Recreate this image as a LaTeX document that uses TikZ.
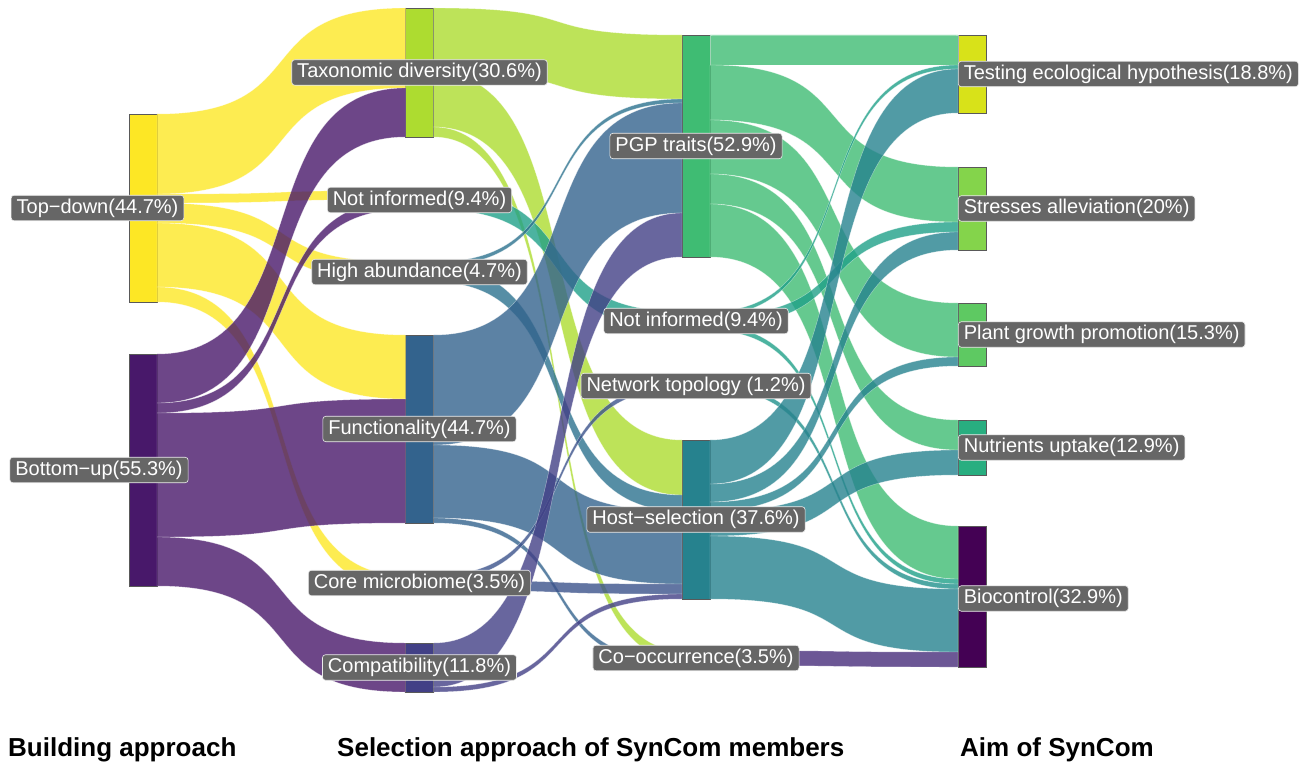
\documentclass[tikz,border=0pt]{standalone}
\usepackage{fontspec}
\setmainfont{Liberation Sans}
\usetikzlibrary{calc}

% viridis, one colour per node name
\definecolor{td}{HTML}{FDE725}
\definecolor{bu}{HTML}{48186A}
\definecolor{tax}{HTML}{ADDC30}
\definecolor{ni2}{HTML}{1FA088}
\definecolor{ni3}{HTML}{1FA088}
\definecolor{ha}{HTML}{2C728E}
\definecolor{fun}{HTML}{33638D}
\definecolor{core}{HTML}{3B528B}
\definecolor{comp}{HTML}{424086}
\definecolor{pgp}{HTML}{3FBC73}
\definecolor{net}{HTML}{21918C}
\definecolor{hs}{HTML}{26828E}
\definecolor{cooc}{HTML}{472D7B}
\definecolor{test}{HTML}{D8E219}
\definecolor{stress}{HTML}{84D44B}
\definecolor{growth}{HTML}{5EC962}
\definecolor{nutr}{HTML}{28AE80}
\definecolor{bioc}{HTML}{440154}
\definecolor{lblgray}{HTML}{666666}

\tikzset{
  bar/.style={draw=black!65, line width=0.8pt, minimum width=28pt, inner sep=0pt, outer sep=0pt},
  lbl/.style={fill=lblgray, draw=white!85!gray, line width=0.6pt, rounded corners=3pt,
    text=white, font=\fontsize{20}{24}\selectfont, inner xsep=5.5pt, inner ysep=3.5pt,
    text height=14.5pt, text depth=4pt},
  flowfill/.style={fill opacity=0.8, draw=white, draw opacity=0.5, line width=0.4pt},
  heading/.style={font=\fontsize{26}{30}\selectfont\bfseries, anchor=base west, inner sep=0pt}
}

% band from node #1 (offset #2 below its top) to node #3 (offset #4), thickness #5
\newcommand\flow[5]{%
  \fill[flowfill, fill=#1] let
    \p1 = ($(#1.north east)+(0,#2)$),
    \p2 = ($(#3.north west)+(0,#4)$),
    \p3 = ($(#1.north east)+(0,#2+#5)$),
    \p4 = ($(#3.north west)+(0,#4+#5)$),
    \p5 = ($(\p1)!.65!(\p2)$),
    \p6 = ($(\p1)!.35!(\p2)$)
  in (\p1) .. controls (\x5,\y1) and (\x6,\y2) .. (\p2)
     -- (\p4) .. controls (\x6,\y4) and (\x5,\y3) .. (\p3) -- cycle;}

\begin{document}
\begin{tikzpicture}[x=1pt, y=-1pt]
    \useasboundingbox (0,0) rectangle (1308,762);

    % building approach
    \node[bar, fill=td, minimum height=188pt] (td) at (143,208) {};
    \node[bar, fill=bu, minimum height=232pt] (bu) at (143,470) {};
    % selection approach
    \node[bar, fill=tax, minimum height=129pt] (tax) at (419.5,72.5) {};
    \node[bar, fill=ni2, minimum height=19pt] (ni2) at (419.5,200) {};
    \node[bar, fill=ha, minimum height=20pt] (ha) at (419.5,272) {};
    \node[bar, fill=fun, minimum height=188pt] (fun) at (419.5,429) {};
    \node[bar, fill=core, minimum height=15pt] (core) at (419.5,583) {};
    \node[bar, fill=comp, minimum height=49pt] (comp) at (419.5,667.5) {};
    \node[bar, fill=pgp, minimum height=222pt] (pgp) at (696,146) {};
    \node[bar, fill=ni3, minimum height=19pt] (ni3) at (696,321) {};
    \node[bar, fill=net, minimum height=5pt] (net) at (696,386) {};
    \node[bar, fill=hs, minimum height=159pt] (hs) at (696,519.5) {};
    \node[bar, fill=cooc, minimum height=15pt] (cooc) at (696,658) {};
    % aim
    \node[bar, fill=test, minimum height=78pt] (test) at (972,74) {};
    \node[bar, fill=stress, minimum height=83pt] (stress) at (972,208.5) {};
    \node[bar, fill=growth, minimum height=63pt] (growth) at (972,334.5) {};
    \node[bar, fill=nutr, minimum height=55pt] (nutr) at (972,447.5) {};
    \node[bar, fill=bioc, minimum height=141pt] (bioc) at (972,596.5) {};

    % flows: source/offset/target/offset/thickness
    \foreach \src/\sa/\tgt/\ta/\fw in {
        td/0/tax/0/80, td/80/ni2/0/9, td/89/ha/0/20, td/109/fun/0/64, td/173/core/0/15,
        bu/0/tax/80/49, bu/49/ni2/9/10, bu/59/fun/64/124, bu/183/comp/0/49,
        tax/0/pgp/0/64, tax/64/hs/0/55, tax/119/cooc/0/10,
        ni2/0/ni3/0/19,
        ha/0/pgp/64/4, ha/4/hs/55/16,
        fun/0/pgp/68/110, fun/110/hs/71/73, fun/183/cooc/10/5,
        core/0/net/0/5, core/5/hs/144/10,
        comp/0/pgp/178/44, comp/44/hs/154/5,
        pgp/0/test/0/30, pgp/30/stress/0/55, pgp/85/growth/0/54, pgp/139/nutr/0/30, pgp/169/bioc/0/53,
        ni3/0/test/30/4, ni3/4/stress/55/10, ni3/14/bioc/53/5,
        net/0/bioc/58/5,
        hs/0/test/34/44, hs/44/stress/65/18, hs/62/growth/54/9, hs/71/nutr/30/25, hs/96/bioc/63/63,
        cooc/0/bioc/126/15} {
        \flow{\src}{\sa}{\tgt}{\ta}{\fw}
    }

    % labels on top
    \node[lbl] (td-l) at ($(td)+(-45.5,0)$) {Top−down(44.7\%)};
    \node[lbl] (bu-l) at ($(bu)+(-44,0)$) {Bottom−up(55.3\%)};
    \node[lbl] (tax-l) at (tax) {Taxonomic diversity(30.6\%)};
    \node[lbl] (ni2-l) at (ni2) {Not informed(9.4\%)};
    \node[lbl] (ha-l) at (ha) {High abundance(4.7\%)};
    \node[lbl] (fun-l) at (fun) {Functionality(44.7\%)};
    \node[lbl] (core-l) at (core) {Core microbiome(3.5\%)};
    \node[lbl] (comp-l) at (comp) {Compatibility(11.8\%)};
    \node[lbl] (pgp-l) at (pgp) {PGP traits(52.9\%)};
    \node[lbl] (ni3-l) at (ni3) {Not informed(9.4\%)};
    \node[lbl] (net-l) at (net) {Network topology (1.2\%)};
    \node[lbl] (hs-l) at (hs) {Host−selection (37.6\%)};
    \node[lbl] (cooc-l) at (cooc) {Co−occurrence(3.5\%)};
    \node[lbl, anchor=west] (test-l) at (test.west) {Testing ecological hypothesis(18.8\%)};
    \node[lbl, anchor=west] (stress-l) at (stress.west) {Stresses alleviation(20\%)};
    \node[lbl, anchor=west] (growth-l) at (growth.west) {Plant growth promotion(15.3\%)};
    \node[lbl, anchor=west] (nutr-l) at (nutr.west) {Nutrients uptake(12.9\%)};
    \node[lbl, anchor=west] (bioc-l) at ($(bioc.west)+(0,2)$) {Biocontrol(32.9\%)};

    % axis titles
    \node[heading] (h-build) at (8,756) {Building approach};
    \node[heading] (h-select) at (337,756) {Selection approach of SynCom members};
    \node[heading] (h-aim) at (960,756) {Aim of SynCom};
\end{tikzpicture}
\end{document}
